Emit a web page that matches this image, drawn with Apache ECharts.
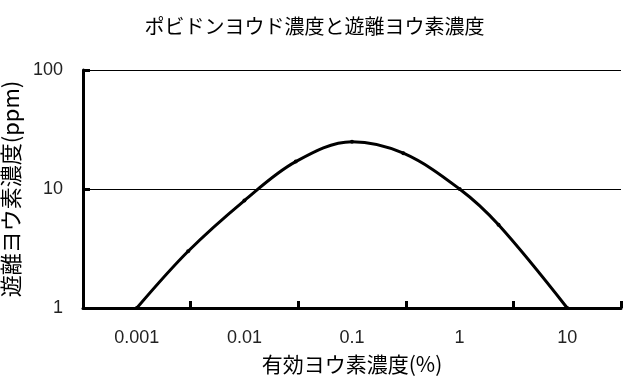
<!DOCTYPE html>
<html>
<head>
<meta charset="utf-8">
<script src="https://cdn.jsdelivr.net/npm/echarts@6/dist/echarts.min.js"></script>
<style>
html,body{margin:0;padding:0;background:#fff;}
#chart{width:629px;height:388px;}
</style>
</head>
<body>
<div id="chart"></div>
<script>
// Data
var titleText = 'ポビドンヨウド濃度と遊離ヨウ素濃度';
var xName = '有効ヨウ素濃度(%)';
var yName = '遊離ヨウ素濃度(ppm)';
var xTickLabels = ['0.001', '0.01', '0.1', '1', '10'];
var iodineConc = [0.001, 0.003, 0.01, 0.03, 0.1, 0.3, 1, 2.3, 10];   // 有効ヨウ素濃度 (%)
var freeIodine = [1, 3, 8, 17, 25, 20, 10, 5, 1];                   // 遊離ヨウ素濃度 (ppm)

var chart = echarts.init(document.getElementById('chart'), null, {renderer: 'canvas'});
var cjk = '"Noto Sans CJK JP", "Noto Sans", sans-serif';
var num = '"Liberation Sans", Arial, sans-serif';

var pts = iodineConc.map(function (x, i) { return [x, freeIodine[i]]; });

chart.setOption({
  animation: false,
  backgroundColor: '#ffffff',
  title: {
    text: titleText,
    left: 'center',
    top: 11,
    textStyle: {fontFamily: cjk, fontSize: 20, fontWeight: 'normal', color: '#000'}
  },
  grid: {left: 83, right: 8, top: 70, bottom: 80, containLabel: false, outerBoundsMode: 'none'},
  xAxis: [
    {
      type: 'log', logBase: 10,
      min: Math.pow(10, -3.5), max: Math.pow(10, 1.5),
      show: false
    },
    {
      type: 'category',
      data: xTickLabels,
      boundaryGap: true,
      position: 'bottom',
      name: xName,
      nameLocation: 'middle',
      nameGap: 46,
      nameTextStyle: {fontFamily: cjk, fontSize: 21, color: '#000'},
      axisLine: {show: true, lineStyle: {color: '#000', width: 3}},
      axisTick: {show: true, inside: true, length: 7, lineStyle: {color: '#000', width: 3}},
      axisLabel: {fontFamily: num, fontSize: 18, color: '#222', margin: 21},
      splitLine: {show: false}
    }
  ],
  yAxis: {
    type: 'log', logBase: 10,
    min: 1, max: 100,
    name: yName,
    nameLocation: 'middle',
    nameRotate: 90,
    nameGap: 51,
    nameTextStyle: {fontFamily: cjk, fontSize: 22, color: '#000'},
    axisLine: {show: true, lineStyle: {color: '#000', width: 3}},
    axisTick: {show: true, inside: true, length: 7, lineStyle: {color: '#000', width: 3}},
    axisLabel: {fontFamily: num, fontSize: 18, color: '#222', margin: 20},
    splitLine: {show: true, lineStyle: {color: '#000', width: 1}}
  },
  series: [{
    type: 'line',
    xAxisIndex: 0,
    data: pts,
    smooth: 0.35,
    symbol: 'circle',
    symbolSize: 4,
    itemStyle: {color: '#000'},
    lineStyle: {color: '#000', width: 3}
  }]
});
</script>
</body>
</html>
